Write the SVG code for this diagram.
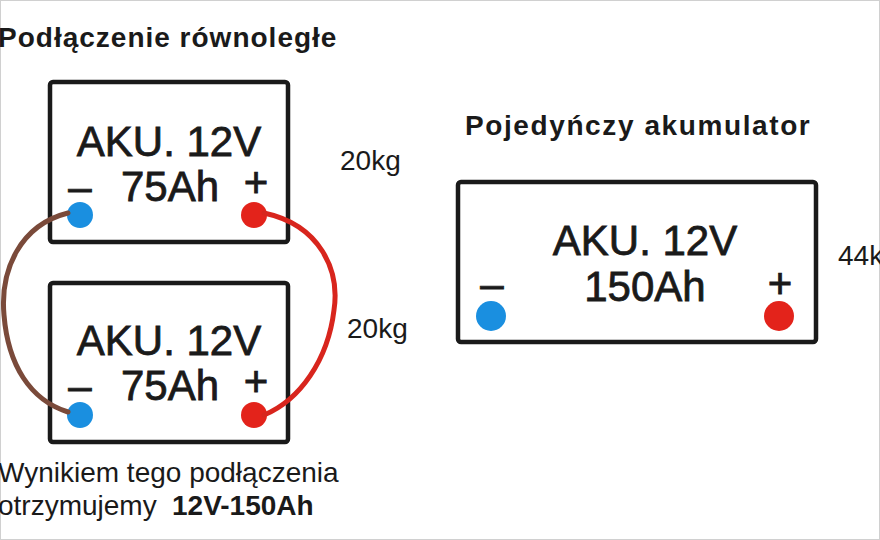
<svg xmlns="http://www.w3.org/2000/svg" width="880" height="540" viewBox="0 0 880 540">
<style>
.box{fill:#fff;stroke:#1a1a1a;stroke-width:4.5}
.big{font-family:"Liberation Sans",Arial,sans-serif;font-size:42px;fill:#1a1a1a;stroke:#1a1a1a;stroke-width:0.8;text-anchor:middle}
.t{font-family:"Liberation Sans",Arial,sans-serif;font-size:28px;fill:#1a1a1a}
.b{font-weight:bold}
.blue{fill:#1a8fe0}
.red{fill:#e3231b}
.wire{fill:none;stroke-width:5;stroke-linecap:round}
</style>
<rect x="0.5" y="0.5" width="879" height="539" fill="#fff" stroke="#d0d0d0"/>
<text class="t b" x="-2" y="47" font-size="31" letter-spacing="1">Podłączenie równoległe</text>
<text class="t b" x="465" y="135" font-size="31" letter-spacing="1.6">Pojedyńczy akumulator</text>
<text class="t" x="340" y="170">20kg</text>
<text class="t" x="347" y="338">20kg</text>
<text class="t" x="838" y="265">44kg</text>
<text class="t" x="-2" y="482">Wynikiem tego podłączenia</text>
<text class="t" x="-2" y="515">otrzymujemy</text>
<text class="t b" x="172" y="515">12V-150Ah</text>
<g id="battery1">
<rect class="box" x="50" y="82" width="238" height="160" rx="3"/>
<text class="big" x="169" y="156">AKU. 12V</text>
<text class="big" x="170" y="201">75Ah</text>
<text class="big" x="80" y="201">–</text>
<text class="big" x="256" y="197">+</text>
<circle class="blue" cx="80" cy="215" r="13"/>
<circle class="red" cx="254" cy="215" r="13"/>
</g>
<g id="battery2">
<rect class="box" x="50" y="283" width="238" height="159" rx="3"/>
<text class="big" x="169" y="355">AKU. 12V</text>
<text class="big" x="170" y="400">75Ah</text>
<text class="big" x="80" y="400">–</text>
<text class="big" x="256" y="396">+</text>
<circle class="blue" cx="80" cy="415" r="13"/>
<circle class="red" cx="254" cy="415" r="13"/>
</g>
<g id="battery3">
<rect class="box" x="458" y="182" width="358" height="160" rx="3"/>
<text class="big" x="645" y="255">AKU. 12V</text>
<text class="big" x="645" y="301">150Ah</text>
<text class="big" x="492" y="298">–</text>
<text class="big" x="780" y="298">+</text>
<circle class="blue" cx="491" cy="316" r="15"/>
<circle class="red" cx="779" cy="316" r="15"/>
</g>
<g id="connectors">
<path class="wire" stroke="#7a4a3a" d="M68,213 C20,225 0,270 4,315 C8,365 30,400 68,412"/>
<path class="wire" stroke="#d8251d" d="M264,213 C320,225 340,270 334,310 C328,360 300,400 264,415"/>
</g>
</svg>
